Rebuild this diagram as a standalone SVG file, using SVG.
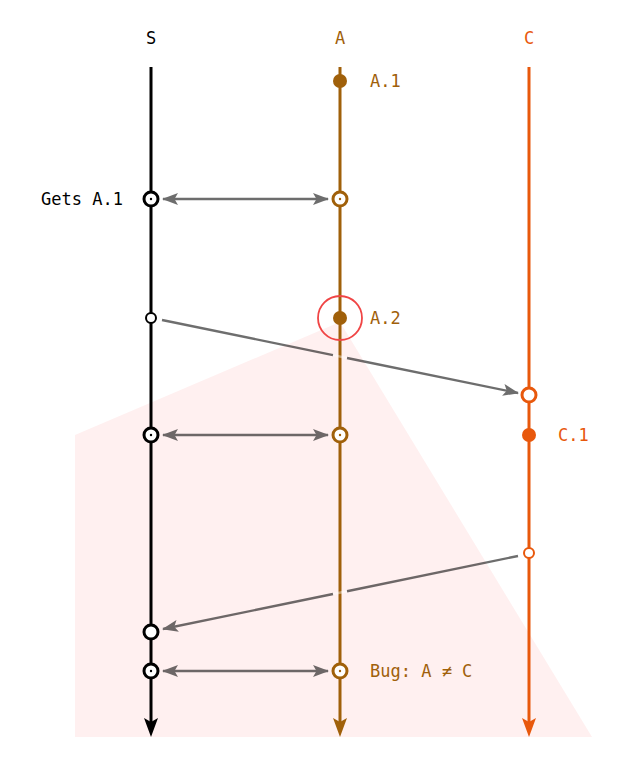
<svg xmlns="http://www.w3.org/2000/svg" width="630" height="768" viewBox="0 0 630 768">
<style>
text{font-family:"DejaVu Sans Mono","Liberation Mono",monospace;font-size:17px}
.s{fill:#000}.a{fill:#a0600a}.c{fill:#e8580c}
.ls{stroke:#000;stroke-width:3;fill:none}
.la{stroke:#a0600a;stroke-width:3;fill:none}
.lc{stroke:#e8580c;stroke-width:3;fill:none}
.conn{stroke:#000;stroke-width:2.4;fill:none}
.os{fill:#fff;stroke:#000;stroke-width:3}
.oa{fill:#fff;stroke:#a0600a;stroke-width:3}
.oc{fill:#fff;stroke:#e8580c;stroke-width:3}
</style>
<defs>
<marker id="ah" viewBox="0 0 16 12" refX="15" refY="6" markerWidth="16" markerHeight="12" markerUnits="userSpaceOnUse" orient="auto-start-reverse">
<path d="M0,0 L16,6 L0,12 L3.5,6 Z" fill="#000"/>
</marker>
</defs>
<rect width="630" height="768" fill="#fff"/>
<polygon id="bug-region" points="75,435 340,322 592,737 75,737" fill="#fff0f0"/>

<g id="lifeline-S">
<text x="151" y="44" text-anchor="middle" class="s">S</text>
<line x1="151" y1="67" x2="151" y2="722" class="ls"/>
<path d="M144,718 L151,722 L158,718 L151,737 Z" fill="#000"/>
</g>
<g id="lifeline-A">
<text x="340" y="44" text-anchor="middle" class="a">A</text>
<line x1="340" y1="67" x2="340" y2="722" class="la"/>
<path d="M333,718 L340,722 L347,718 L340,737 Z" fill="#a0600a"/>
</g>
<g id="lifeline-C">
<text x="529" y="44" text-anchor="middle" class="c">C</text>
<line x1="529" y1="67" x2="529" y2="722" class="lc"/>
<path d="M522,718 L529,722 L536,718 L529,737 Z" fill="#e8580c"/>
</g>

<g id="connectors">
<g opacity="0.57">
<line x1="163" y1="199" x2="328" y2="199" class="conn" marker-start="url(#ah)" marker-end="url(#ah)"/>
</g>
<g opacity="0.57">
<line x1="162" y1="320" x2="333" y2="355.1" class="conn"/>
<line x1="347" y1="358" x2="518" y2="393" class="conn" marker-end="url(#ah)"/>
</g>
<line x1="333" y1="355.1" x2="347" y2="358" stroke="#fff" stroke-width="2.4" opacity="0.4"/>
<g opacity="0.57">
<line x1="163" y1="435" x2="328" y2="435" class="conn" marker-start="url(#ah)" marker-end="url(#ah)"/>
</g>
<g opacity="0.57">
<line x1="518" y1="556" x2="347" y2="591.2" class="conn"/>
<line x1="333" y1="594" x2="163" y2="629" class="conn" marker-end="url(#ah)"/>
</g>
<line x1="347" y1="591.2" x2="333" y2="594" stroke="#fff" stroke-width="2.4" opacity="0.4"/>
<g opacity="0.57">
<line x1="163" y1="671" x2="328" y2="671" class="conn" marker-start="url(#ah)" marker-end="url(#ah)"/>
</g>
</g>

<g id="A1">
<circle cx="340" cy="81" r="7" fill="#a0600a"/>
<text x="370" y="87" class="a">A.1</text>
</g>
<g id="S-get1">
<circle cx="151" cy="199" r="7" class="os"/>
<circle cx="151" cy="199" r="1.2" fill="#000"/>
<text x="123" y="205" text-anchor="end" class="s">Gets A.1</text>
</g>
<g id="A-sync1">
<circle cx="340" cy="199" r="7" class="oa"/>
<circle cx="340" cy="199" r="1.2" fill="#a0600a"/>
</g>
<g id="S-send">
<circle cx="151" cy="318" r="5" fill="#fff" stroke="#000" stroke-width="2"/>
</g>
<g id="A2">
<circle cx="340" cy="318" r="7" fill="#a0600a"/>
<circle cx="340" cy="318" r="22" fill="none" stroke="#f04545" stroke-width="1.8"/>
<text x="370" y="324" class="a">A.2</text>
</g>
<g id="C-recv">
<circle cx="529" cy="395" r="7" class="oc"/>
</g>
<g id="C1">
<circle cx="529" cy="435" r="7" fill="#e8580c"/>
<text x="558" y="441" class="c">C.1</text>
</g>
<g id="S-sync2">
<circle cx="151" cy="435" r="7" class="os"/>
<circle cx="151" cy="435" r="1.2" fill="#000"/>
</g>
<g id="A-sync2">
<circle cx="340" cy="435" r="7" class="oa"/>
<circle cx="340" cy="435" r="1.2" fill="#a0600a"/>
</g>
<g id="C-send">
<circle cx="529" cy="553" r="5" fill="#fff" stroke="#e8580c" stroke-width="2"/>
</g>
<g id="S-recv">
<circle cx="151" cy="632" r="7" class="os"/>
</g>
<g id="S-sync3">
<circle cx="151" cy="671" r="7" class="os"/>
<circle cx="151" cy="671" r="1.2" fill="#000"/>
</g>
<g id="A-sync3">
<circle cx="340" cy="671" r="7" class="oa"/>
<circle cx="340" cy="671" r="1.2" fill="#a0600a"/>
<text x="370" y="677" class="a">Bug: A ≠ C</text>
</g>
</svg>
